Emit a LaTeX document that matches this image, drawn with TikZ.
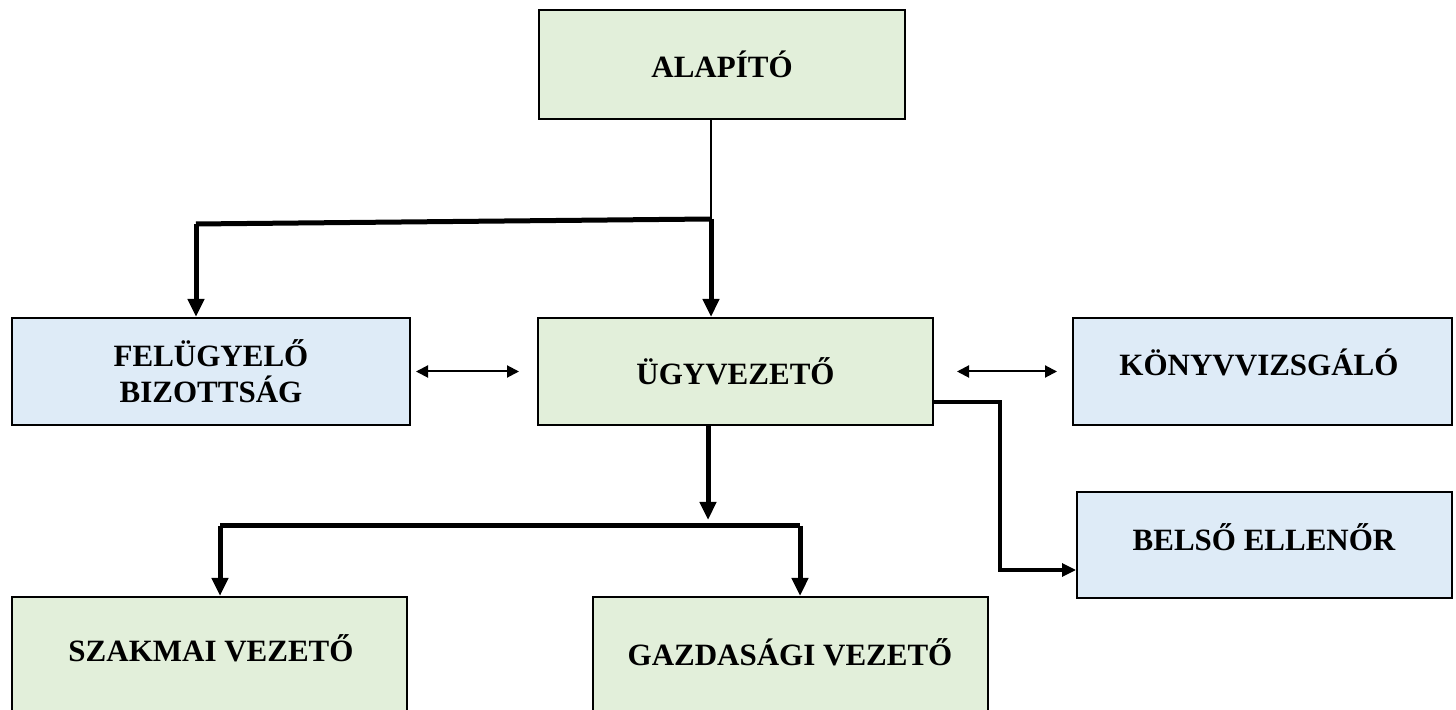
\documentclass[tikz,border=0pt]{standalone}
\usepackage{fontspec}
\setmainfont{Liberation Serif}
\usetikzlibrary{arrows.meta}
\definecolor{zold}{RGB}{226,239,218}
\definecolor{kek}{RGB}{222,235,247}
\begin{document}
\begin{tikzpicture}[x=0.5pt, y=-0.5pt, greenStyle/.style={rectangle, draw, line width=1pt, fill=zold, inner sep=0pt}, blueStyle/.style={rectangle, draw, line width=1pt, fill=kek, inner sep=0pt}, textStyle/.style={font=\fontsize{15.5}{18}\selectfont\bfseries, align=center}, thickArrow/.style={line width=2.5pt, -{Triangle[length=9pt,width=8pt]}}, thinArrow/.style={line width=1pt, {Triangle[length=6pt,width=6pt]}-{Triangle[length=6pt,width=6pt]}}]
                    \useasboundingbox (0,0) rectangle (1456,710);

                    \node[greenStyle, textStyle, minimum width=183pt, minimum height=54.5pt] (alapito)   at ( 722,  64.5) {ALAPÍTÓ};
                    \node[blueStyle,  textStyle, minimum width=199pt, minimum height=53.5pt] (felugyelo) at ( 211, 371.5) {FELÜGYELŐ\\BIZOTTSÁG};
                    \node[greenStyle, textStyle, minimum width=197.5pt, minimum height=53.5pt] (ugyvezeto) at (735.5, 371.5) {ÜGYVEZETŐ};
                    \node[blueStyle,  minimum width=189.5pt, minimum height=53.5pt] (konyv)     at (1262.5, 371.5) {};
                    \node[blueStyle,  minimum width=187.5pt, minimum height=53pt]   (belso)     at (1264.5, 545) {};
                    \node[greenStyle, minimum width=197.5pt, minimum height=60pt]   (szakmai)   at (209.5, 657) {};
                    \node[greenStyle, minimum width=197.5pt, minimum height=60pt]   (gazdasagi) at (790.5, 657) {};

                    \node[textStyle] (konyv_t)     at (1259, 362.5) {KÖNYVVIZSGÁLÓ};
                    \node[textStyle] (belso_t)     at (1264, 537.5) {BELSŐ ELLENŐR};
                    \node[textStyle] (szakmai_t)   at ( 211, 648.5) {SZAKMAI VEZETŐ};
                    \node[textStyle] (gazdasagi_t) at ( 790, 652) {GAZDASÁGI VEZETŐ};

                    \coordinate (top_J)  at (711, 219);
                    \coordinate (top_L)  at (196, 224);
                    \coordinate (mid_J)  at (708, 520);
                    \coordinate (mid_L)  at (220, 526);
                    \coordinate (mid_R)  at (800, 526);
                    \coordinate (side_A) at (1000, 402);
                    \coordinate (side_B) at (1000, 570);

                    \draw[line width=1.2pt] (alapito.south -| top_J) -- (top_J);
                    \draw[line width=2.5pt] (top_J) -- (top_L);
                    \draw[thickArrow] (top_L) -- (top_L |- felugyelo.north);
                    \draw[thickArrow] (top_J) -- (top_J |- ugyvezeto.north);

                    \draw[thickArrow] (ugyvezeto.south -| mid_J) -- (mid_J);
                    \draw[line width=2.5pt] (mid_L) -- (mid_R);
                    \draw[thickArrow] (mid_L) -- (mid_L |- szakmai.north);
                    \draw[thickArrow] (mid_R) -- (mid_R |- gazdasagi.north);

                    \draw[line width=1.6pt, -{Triangle[length=7pt,width=6.5pt]}] (ugyvezeto.east |- side_A) -- (side_A) -- (side_B) -- (side_B -| belso.west);

                    \draw[thinArrow, shorten <=2.5pt, shorten >=9pt] (felugyelo.east) -- (ugyvezeto.west);
                    \draw[thinArrow, shorten <=11.5pt, shorten >=7.5pt] (ugyvezeto.east) -- (konyv.west);
                \end{tikzpicture}
\end{document}
